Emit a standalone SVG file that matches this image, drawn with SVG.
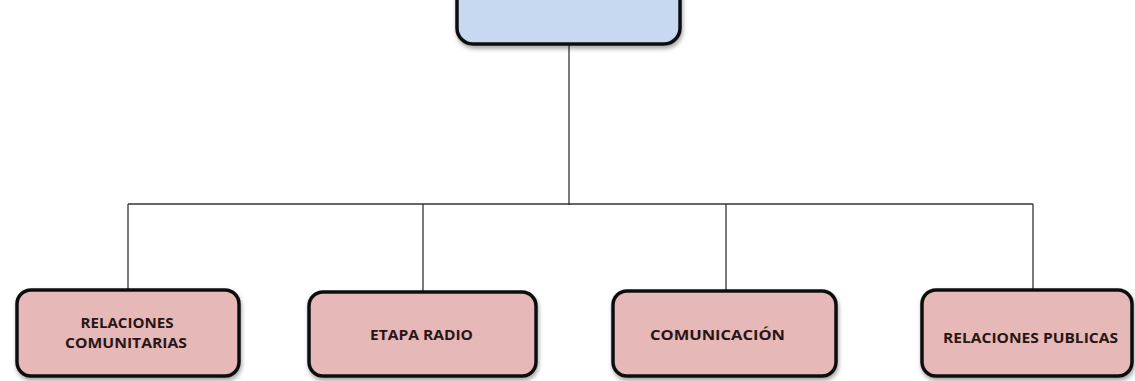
<svg xmlns="http://www.w3.org/2000/svg" width="1135" height="381" viewBox="0 0 1135 381">
<style>
.box{stroke:#111;stroke-width:3.5;filter:url(#sh)}
.pink{fill:#e6b8b7}
.blue{fill:#c6d9f1}
.lbl{font-family:"Open Sans","Liberation Sans",sans-serif;font-weight:bold;font-size:13.5px;fill:#2a1515;text-anchor:middle}
.ln{stroke:#333;stroke-width:1.3;fill:none}
</style>
<defs>
<filter id="sh" x="-10%" y="-10%" width="120%" height="130%">
<feDropShadow dx="1" dy="3" stdDeviation="2" flood-color="#000" flood-opacity="0.35"/>
</filter>
</defs>
<rect width="1135" height="381" fill="#fff"/>
<g id="connectors">
<path class="ln" d="M569 45 V205"/>
<path class="ln" d="M128 204 H1033"/>
<path class="ln" d="M128 204 V289"/>
<path class="ln" d="M423 204 V291"/>
<path class="ln" d="M726 204 V290"/>
<path class="ln" d="M1033 204 V289"/>
</g>
<g id="top">
<rect class="box blue" x="457" y="-20" width="223" height="64" rx="16"/>
</g>
<g id="n1">
<rect class="box pink" x="17" y="290" width="222" height="86" rx="14"/>
<text class="lbl" x="127" y="328" textLength="93" lengthAdjust="spacingAndGlyphs">RELACIONES</text>
<text class="lbl" x="126" y="348" textLength="122" lengthAdjust="spacingAndGlyphs">COMUNITARIAS</text>
</g>
<g id="n2">
<rect class="box pink" x="309" y="292" width="227" height="84" rx="14"/>
<text class="lbl" x="421.5" y="340" textLength="103" lengthAdjust="spacingAndGlyphs">ETAPA RADIO</text>
</g>
<g id="n3">
<rect class="box pink" x="613" y="291" width="223" height="85" rx="14"/>
<text class="lbl" x="717.5" y="340" textLength="135" lengthAdjust="spacingAndGlyphs">COMUNICACIÓN</text>
</g>
<g id="n4">
<rect class="box pink" x="922" y="290" width="210" height="86" rx="14"/>
<text class="lbl" x="1030.5" y="343" textLength="175" lengthAdjust="spacingAndGlyphs">RELACIONES  PUBLICAS</text>
</g>
</svg>
